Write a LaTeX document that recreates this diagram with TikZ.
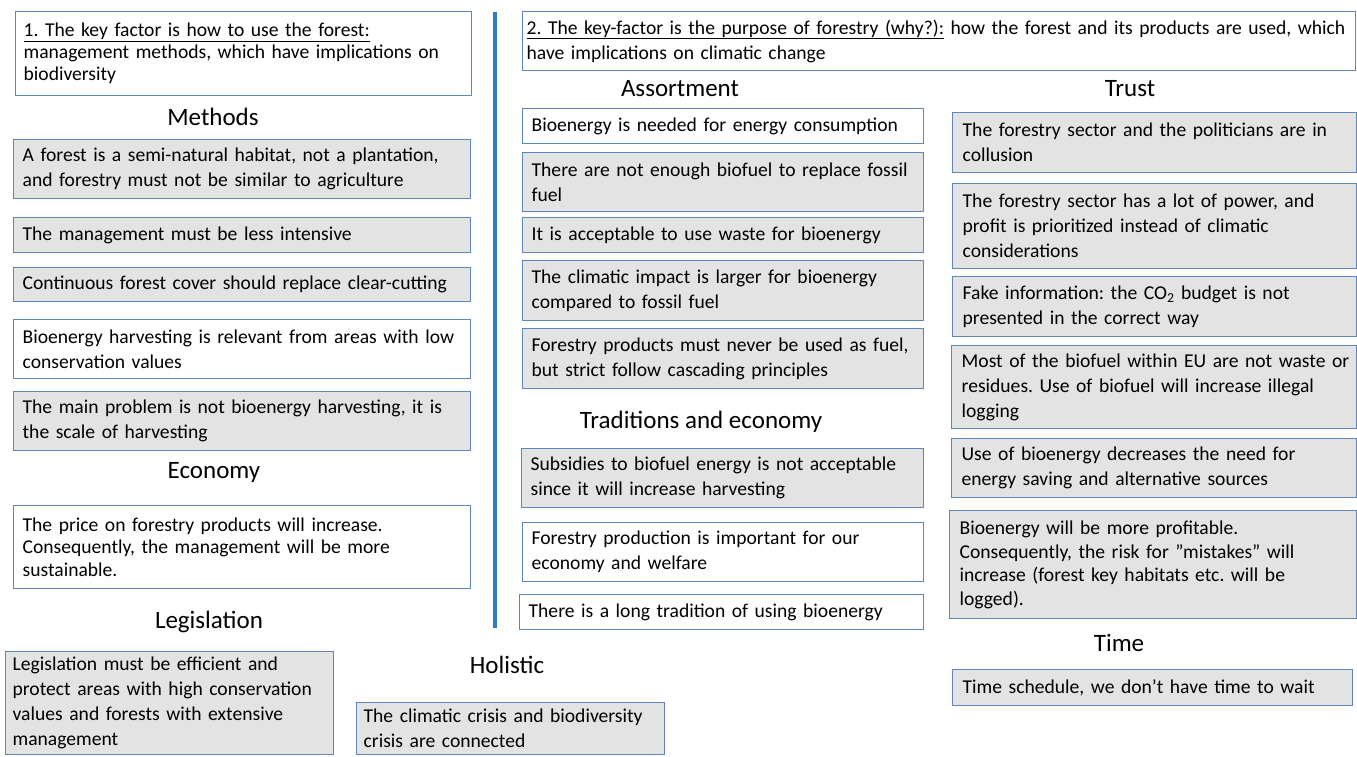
\documentclass[tikz,border=0pt]{standalone}
\usepackage{fontspec}
\setmainfont{Carlito}
\frenchspacing
\hyphenpenalty=10000
\exhyphenpenalty=10000
\newcommand\tl[1]{\mbox{#1}}
\newcommand\bodyfont{\fontsize{19.6bp}{25bp}\selectfont}
\newcommand\catfont{\fontsize{25bp}{30bp}\selectfont}
\definecolor{bordc}{HTML}{5E86BB}
\definecolor{grayf}{HTML}{E3E3E3}
\definecolor{vlinec}{HTML}{2F7BC6}
\tikzset{
  box/.style={draw=bordc, line width=1.3bp, anchor=north west, align=left,
    inner xsep=9bp, inner ysep=0bp, font=\bodyfont, text=black},
  gbox/.style={box, fill=grayf},
  wbox/.style={box, fill=white},
  cat/.style={font=\catfont, inner sep=0pt},
  vline/.style={draw=vlinec, line width=3.5bp}
}
\begin{document}
\begin{tikzpicture}[x=1bp, y=-1bp]
\useasboundingbox (0,0) rectangle (1357,756);
% left part
\node[wbox, inner xsep=8bp, minimum width=456bp, minimum height=84bp, text width=440bp,
  font=\fontsize{19.6bp}{22bp}\selectfont] (h1) at (15,11)
  {\tl{\underline{1. The key factor is how to use the forest:}}\\ \tl{management methods, which have implications on}\\ \tl{biodiversity}};
\node[cat] (methods) at (213,117) {Methods};
\node[gbox, minimum width=457bp, minimum height=59bp, text width=439bp] (l1) at (13,139)
  {\tl{A forest is a semi-natural habitat, not a plantation,}\\ \tl{and forestry must not be similar to agriculture}};
\node[gbox, minimum width=457bp, minimum height=35bp, text width=439bp] (l2) at (13,217)
  {\tl{The management must be less intensive}};
\node[gbox, minimum width=457bp, minimum height=34bp, text width=439bp] (l3) at (13,267)
  {\tl{Continuous forest cover should replace clear-cutting}};
\node[wbox, minimum width=457bp, minimum height=59bp, text width=439bp] (l4) at (13,319)
  {\tl{Bioenergy harvesting is relevant from areas with low}\\ \tl{conservation values}};
\node[gbox, minimum width=457bp, minimum height=59bp, text width=439bp] (l5) at (13,391)
  {\tl{The main problem is not bioenergy harvesting, it is}\\ \tl{the scale of harvesting}};
\node[cat] (economy) at (214,472) {Economy};
\node[wbox, minimum width=457bp, minimum height=83bp, text width=439bp,
  font=\fontsize{19.6bp}{22.5bp}\selectfont] (l6) at (13,505)
  {\tl{The price on forestry products will increase.}\\ \tl{Consequently, the management will be more}\\ \tl{sustainable.}};
\node[cat] (legis) at (209,622) {Legislation};
\node[gbox, inner xsep=7bp, minimum width=328bp, minimum height=103bp, text width=314bp] (l7) at (5,651)
  {\tl{Legislation must be efficient and}\\ \tl{protect areas with high conservation}\\ \tl{values and forests with extensive}\\ \tl{management}};
\node[cat] (holistic) at (507,665) {Holistic};
\node[gbox, inner xsep=7bp, minimum width=308bp, minimum height=52bp, text width=294bp] (hol) at (356,702)
  {\tl{The climatic crisis and biodiversity}\\ \tl{crisis are connected}};
% divider
\coordinate (vtop) at (495,12);
\coordinate (vbot) at (495,628);
\draw[vline] (vtop) -- (vbot);
% middle part
\node[wbox, inner xsep=4bp, minimum width=833bp, minimum height=59bp, text width=825bp] (h2) at (522,11)
  {\tl{\underline{2. The key-factor is the purpose of forestry (why?):} how the forest and its products are used, which}\\ \tl{have implications on climatic change}};
\node[cat] (assort) at (680,89) {Assortment};
\node[wbox, minimum width=401bp, minimum height=35bp, text width=383bp] (m1) at (522,108)
  {\tl{Bioenergy is needed for energy consumption}};
\node[gbox, minimum width=401bp, minimum height=59bp, text width=383bp] (m2) at (522,152)
  {\tl{There are not enough biofuel to replace fossil}\\ \tl{fuel}};
\node[gbox, minimum width=401bp, minimum height=35bp, text width=383bp] (m3) at (522,217)
  {\tl{It is acceptable to use waste for bioenergy}};
\node[gbox, minimum width=401bp, minimum height=60bp, text width=383bp] (m4) at (522,260)
  {\tl{The climatic impact is larger for bioenergy}\\ \tl{compared to fossil fuel}};
\node[gbox, minimum width=401bp, minimum height=60bp, text width=383bp] (m5) at (522,328)
  {\tl{Forestry products must never be used as fuel,}\\ \tl{but strict follow cascading principles}};
\node[cat] (trad) at (701,422) {Traditions and economy};
\node[gbox, minimum width=402bp, minimum height=59bp, text width=384bp] (m6) at (521,448)
  {\tl{Subsidies to biofuel energy is not acceptable}\\ \tl{since it will increase harvesting}};
\node[wbox, minimum width=401bp, minimum height=59bp, text width=383bp] (m7) at (522,522)
  {\tl{Forestry production is important for our}\\ \tl{economy and welfare}};
\node[wbox, minimum width=404bp, minimum height=35bp, text width=386bp] (m8) at (519,594)
  {\tl{There is a long tradition of using bioenergy}};
% right part
\node[cat] (trust) at (1130,89) {Trust};
\node[gbox, inner xsep=10bp, minimum width=404bp, minimum height=60bp, text width=384bp] (r1) at (952,112)
  {\tl{The forestry sector and the politicians are in}\\ \tl{collusion}};
\node[gbox, inner xsep=10bp, minimum width=404bp, minimum height=85bp, text width=384bp] (r2) at (952,183)
  {\tl{The forestry sector has a lot of power, and}\\ \tl{profit is prioritized instead of climatic}\\ \tl{considerations}};
\node[gbox, inner xsep=10bp, minimum width=404bp, minimum height=60bp, text width=384bp] (r3) at (952,276)
  {\tl{Fake information: the CO\textsubscript{2} budget is not}\\ \tl{presented in the correct way}};
\node[gbox, inner xsep=10bp, minimum width=405bp, minimum height=83bp, text width=385bp] (r4) at (951,345)
  {\tl{Most of the biofuel within EU are not waste or}\\ \tl{residues. Use of biofuel will increase illegal}\\ \tl{logging}};
\node[gbox, inner xsep=10bp, minimum width=405bp, minimum height=59bp, text width=385bp] (r5) at (951,438)
  {\tl{Use of bioenergy decreases the need for}\\ \tl{energy saving and alternative sources}};
\node[gbox, inner xsep=10bp, minimum width=407bp, minimum height=108bp, text width=387bp,
  font=\fontsize{19.6bp}{23.5bp}\selectfont] (r6) at (949,510)
  {\tl{Bioenergy will be more profitable.}\\ \tl{Consequently, the risk for ”mistakes” will}\\ \tl{increase (forest key habitats etc. will be}\\ \tl{logged).}};
\node[cat] (time) at (1119,643) {Time};
\node[gbox, inner xsep=10bp, minimum width=400bp, minimum height=36bp, text width=380bp] (r7) at (952,669)
  {\tl{Time schedule, we don’t have time to wait}};
\end{tikzpicture}
\end{document}
